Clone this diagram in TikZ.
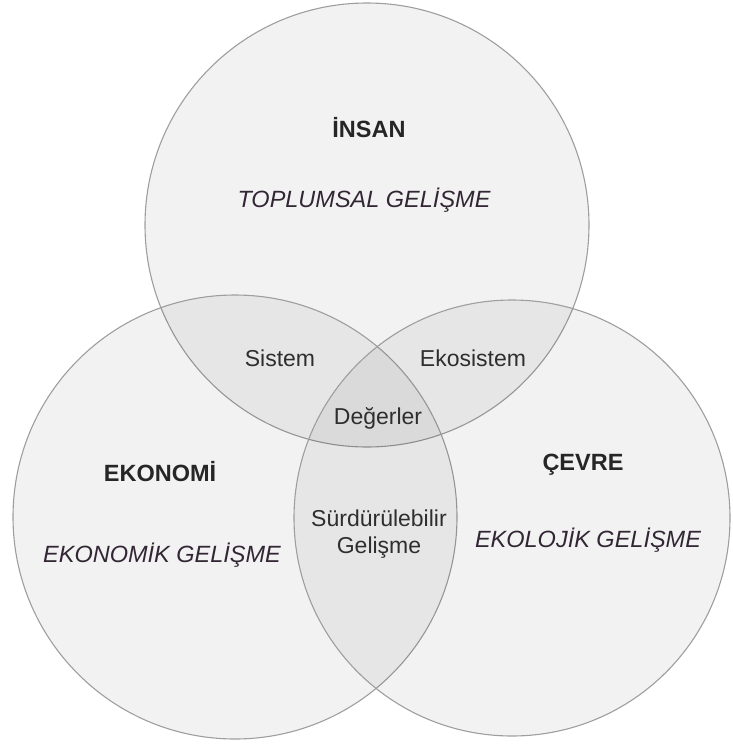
\documentclass[tikz,border=0pt]{standalone}
\usepackage{fontspec}
\setmainfont{Liberation Sans}
\begin{document}
\begin{tikzpicture}[x=1pt,y=-1pt,
  venn/.style={circle,draw=black!38,line width=1.1pt,fill=black,fill opacity=0.05,draw opacity=1,minimum size=#1,inner sep=0pt},
  head/.style={font=\fontsize{23.5}{26}\selectfont\bfseries,text=black!85},
  sub/.style={font=\fontsize{23.5}{26}\selectfont\itshape,text={rgb,255:red,50;green,38;blue,52}},
  lab/.style={font=\fontsize{23}{27}\selectfont,text=black!82,align=center,inner sep=0pt}]
\useasboundingbox (0,0) rectangle (732,745);
\node[venn=444pt] (top) at (367,225) {};
\node[venn=444pt] (left) at (235,517) {};
\node[venn=436pt] (right) at (512,518) {};
\node[head] (insan) at (369,128) {İNSAN};
\node[sub] (toplum) at (364,200) {TOPLUMSAL GELİŞME};
\node[head] (ekonomi) at (160,472) {EKONOMİ};
\node[sub] (ekonomik) at (162,555) {EKONOMİK GELİŞME};
\node[head] (cevre) at (583,465) {ÇEVRE};
\node[sub] (ekolojik) at (588,540) {EKOLOJİK GELİŞME};
\node[lab] (sistem) at (280,358) {Sistem};
\node[lab] (ekosistem) at (473,358) {Ekosistem};
\node[lab] (degerler) at (378,418) {Değerler};
\node[lab] (surd) at (379,534) {Sürdürülebilir\\Gelişme};
\end{tikzpicture}
\end{document}
